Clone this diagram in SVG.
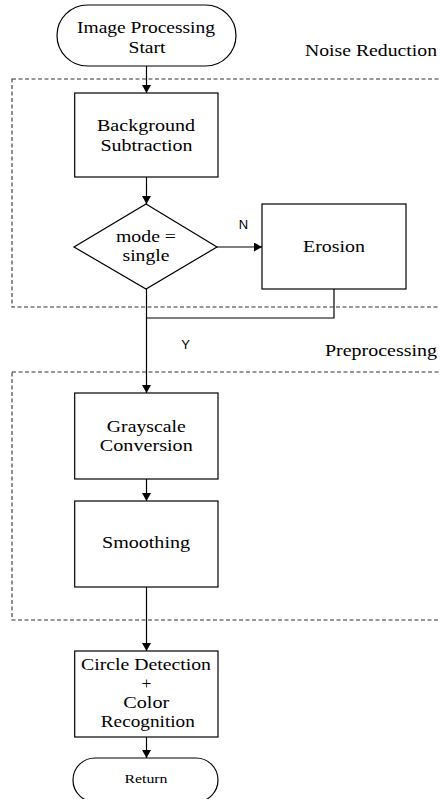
<svg xmlns="http://www.w3.org/2000/svg" width="440" height="799" viewBox="0 0 440 799">
<style>
.shape{fill:#fff;stroke:#000;stroke-width:1.2}
.dash{fill:none;stroke:#333;stroke-width:1.1;stroke-dasharray:4,2.5}
.t{font-family:"Liberation Serif","Times New Roman",serif;font-size:17.5px;fill:#000;text-anchor:middle}
.s{font-family:"Liberation Sans",Arial,sans-serif;font-size:13px;fill:#000;text-anchor:middle}
.line{fill:none;stroke:#000;stroke-width:1.2}
</style>
<defs>
<marker id="arr" markerWidth="9" markerHeight="9" refX="8" refY="4.5" orient="auto" markerUnits="userSpaceOnUse">
<path d="M0,0 L8,4.5 L0,9 Z" fill="#000"/>
</marker>
</defs>
<rect width="440" height="799" fill="#fff"/>

<g id="noise-reduction">
<rect class="dash" x="12" y="79" width="440" height="228"/>
<text class="t" x="371" y="56" textLength="132" lengthAdjust="spacingAndGlyphs">Noise Reduction</text>
</g>
<g id="preprocessing">
<rect class="dash" x="12" y="372" width="440" height="248"/>
<text class="t" x="381" y="356" textLength="112" lengthAdjust="spacingAndGlyphs">Preprocessing</text>
</g>

<g id="connectors">
<line class="line" x1="146.5" y1="66" x2="146.5" y2="93" marker-end="url(#arr)"/>
<line class="line" x1="146.5" y1="177" x2="146.5" y2="204" marker-end="url(#arr)"/>
<line class="line" x1="217" y1="247" x2="262" y2="247" marker-end="url(#arr)"/>
<polyline class="line" points="334,289 334,318 146.5,318"/>
<line class="line" x1="146.5" y1="289" x2="146.5" y2="393" marker-end="url(#arr)"/>
<line class="line" x1="146.5" y1="479" x2="146.5" y2="501" marker-end="url(#arr)"/>
<line class="line" x1="146.5" y1="587" x2="146.5" y2="651" marker-end="url(#arr)"/>
<line class="line" x1="146.5" y1="737" x2="146.5" y2="758" marker-end="url(#arr)"/>
<text class="s" x="243.5" y="229">N</text>
<text class="s" x="185.5" y="349">Y</text>
</g>

<g id="start">
<rect class="shape" x="57" y="5" width="179" height="61" rx="30.5" ry="30.5"/>
<text class="t" x="146" y="33" textLength="138" lengthAdjust="spacingAndGlyphs">Image Processing</text>
<text class="t" x="147" y="53" textLength="37" lengthAdjust="spacingAndGlyphs">Start</text>
</g>

<g id="background-subtraction">
<rect class="shape" x="74.7" y="93" width="143.3" height="84"/>
<text class="t" x="146" y="131" textLength="98" lengthAdjust="spacingAndGlyphs">Background</text>
<text class="t" x="146.5" y="151" textLength="92" lengthAdjust="spacingAndGlyphs">Subtraction</text>
</g>

<g id="mode-decision">
<polygon class="shape" points="146,204 217,247 146,289 74,247"/>
<text class="t" x="146" y="242" textLength="60" lengthAdjust="spacingAndGlyphs">mode =</text>
<text class="t" x="146" y="261" textLength="47" lengthAdjust="spacingAndGlyphs">single</text>
</g>

<g id="erosion">
<rect class="shape" x="262" y="204" width="144" height="85"/>
<text class="t" x="334" y="252" textLength="62" lengthAdjust="spacingAndGlyphs">Erosion</text>
</g>

<g id="grayscale-conversion">
<rect class="shape" x="74.7" y="393" width="143.3" height="86"/>
<text class="t" x="146.3" y="432" textLength="79" lengthAdjust="spacingAndGlyphs">Grayscale</text>
<text class="t" x="146.3" y="451" textLength="93" lengthAdjust="spacingAndGlyphs">Conversion</text>
</g>

<g id="smoothing">
<rect class="shape" x="74.7" y="501" width="143.3" height="86"/>
<text class="t" x="146" y="548" textLength="88" lengthAdjust="spacingAndGlyphs">Smoothing</text>
</g>

<g id="circle-detection">
<rect class="shape" x="74.7" y="651" width="143.3" height="86"/>
<text class="t" x="146" y="670" textLength="130" lengthAdjust="spacingAndGlyphs">Circle Detection</text>
<text class="t" x="146.5" y="689">+</text>
<text class="t" x="146.3" y="708" textLength="46" lengthAdjust="spacingAndGlyphs">Color</text>
<text class="t" x="147.8" y="727" textLength="94" lengthAdjust="spacingAndGlyphs">Recognition</text>
</g>

<g id="return">
<rect class="shape" x="73" y="758" width="145" height="44" rx="22" ry="22"/>
<text class="t" x="146" y="783" style="font-size:13px" textLength="43" lengthAdjust="spacingAndGlyphs">Return</text>
</g>
</svg>
